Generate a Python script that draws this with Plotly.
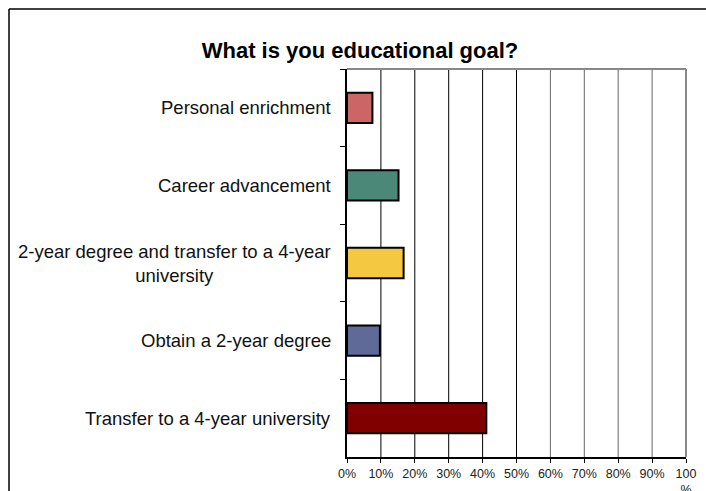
import plotly.graph_objects as go

categories = [
    "Personal enrichment",
    "Career advancement",
    "2-year degree and transfer to a 4-year<br>university",
    "Obtain a 2-year degree",
    "Transfer to a 4-year university",
]
values = [7.5, 15.2, 16.7, 9.7, 41.1]
colors = ["#CC6666", "#4B8878", "#F5C842", "#5F6A99", "#800000"]
tick_vals = [0, 10, 20, 30, 40, 50, 60, 70, 80, 90, 100]
tick_text = ["0%", "10%", "20%", "30%", "40%", "50%", "60%", "70%", "80%", "90%", "100<br>%"]

W, H = 706, 491
L, R, T, B = 347, 20, 69, 34
pw = W - L - R
ph = H - T - B

fig = go.Figure()
fig.add_trace(go.Bar(
    y=categories, x=values, orientation="h",
    marker=dict(color=colors, line=dict(color="#000000", width=2)),
    width=0.39, hoverinfo="skip",
))

shapes = []
for v in tick_vals[1:-1]:
    shapes.append(dict(type="line", xref="x", yref="paper", x0=v, x1=v, y0=0, y1=1,
                       line=dict(color="#000000" if v <= 50 else "#666666", width=1), layer="below"))
# plot area top and right borders
shapes.append(dict(type="line", xref="paper", yref="paper", x0=0, x1=1, y0=1, y1=1,
                   line=dict(color="#888888", width=2), layer="below"))
shapes.append(dict(type="line", xref="paper", yref="paper", x0=1, x1=1, y0=0, y1=1,
                   line=dict(color="#888888", width=2), layer="below"))
# outer chart frame (left and top edges visible, cropped at right/bottom)
fx0 = (9 - L) / pw
fy1 = (H - B - 9) / ph
shapes.append(dict(type="line", xref="paper", yref="paper", x0=fx0, x1=fx0, y0=-1, y1=fy1,
                   line=dict(color="#000000", width=1.5)))
shapes.append(dict(type="line", xref="paper", yref="paper", x0=fx0, x1=2, y0=fy1, y1=fy1,
                   line=dict(color="#000000", width=1.5)))

annotations = []
for c in categories:
    annotations.append(dict(xref="paper", yref="y", x=0, y=c, xshift=-14, xanchor="right",
                            yanchor="middle", text=c, showarrow=False, align="center",
                            font=dict(family="Liberation Sans, Arial", size=18.5, color="#111111")))

fig.update_layout(
    width=W, height=H,
    margin=dict(l=L, r=R, t=T, b=B, autoexpand=False),
    paper_bgcolor="white", plot_bgcolor="white",
    showlegend=False,
    bargap=0.61,
    title=dict(text="<b>What is you educational goal?</b>", xref="container", x=360 / W,
               xanchor="center", yref="container", y=1 - 50 / H, yanchor="middle",
               font=dict(family="Liberation Sans, Arial", size=22, color="#000000")),
    shapes=shapes,
    annotations=annotations,
    font=dict(family="Liberation Sans, Arial"),
)
fig.update_xaxes(range=[0, 100], tickvals=tick_vals, ticktext=tick_text, showgrid=False,
                 zeroline=False, showline=True, linecolor="#000000", linewidth=1.5,
                 ticks="outside", ticklen=4, tickcolor="#000000", automargin=False,
                 tickfont=dict(size=12.5, color="#222222"))
fig.update_yaxes(categoryorder="array", categoryarray=categories, autorange="reversed",
                 showticklabels=False, showgrid=False, zeroline=False, showline=True,
                 linecolor="#000000", linewidth=1.5, ticks="outside", ticklen=5,
                 tickson="boundaries", tickcolor="#000000", automargin=False)

fig.write_html("out.html", config={"displayModeBar": False},
               post_script="document.body.style.margin='0';document.body.style.overflow='hidden';")
